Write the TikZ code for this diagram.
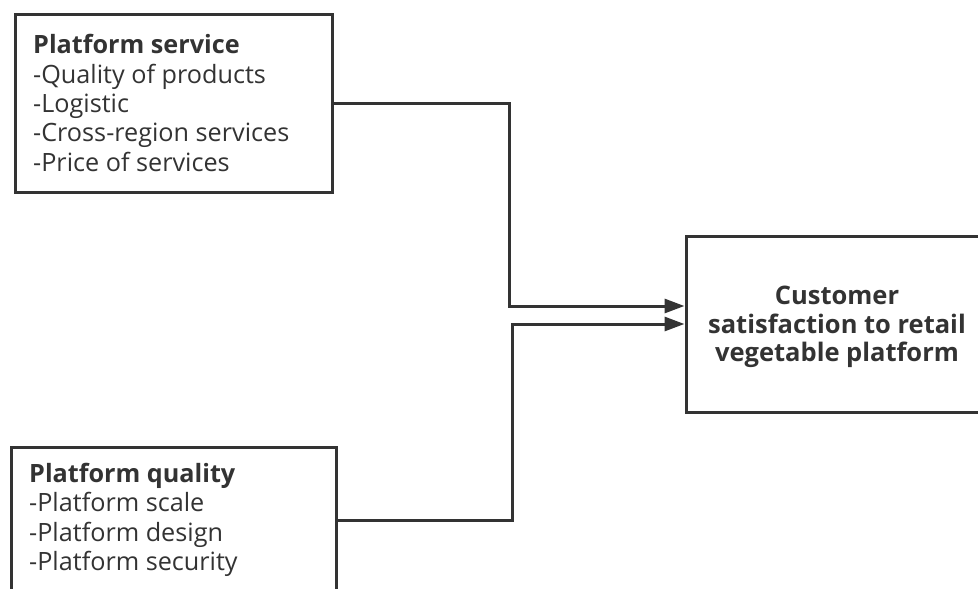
\documentclass[tikz,border=0pt]{standalone}
\usepackage{fontspec}
\setmainfont{Open Sans}
\usetikzlibrary{arrows.meta}
\definecolor{ink}{HTML}{333333}
\tikzset{
  x=1pt, y=-1pt,
  box/.style={draw=ink, line width=3pt, inner sep=0pt, fill=white},
  listtext/.style={inner sep=0pt, anchor=north west, align=left, text=ink,
    font=\fontsize{25.2}{29.3}\selectfont},
  goaltext/.style={inner sep=0pt, align=center, text=ink,
    font=\fontsize{25.5}{28.5}\selectfont\bfseries},
  link/.style={draw=ink, line width=3pt, line join=miter,
    -{Triangle[length=20pt,width=14pt]}},
}
\begin{document}
\begin{tikzpicture}
  \useasboundingbox (0,0) rectangle (978,589);
  \begin{scope}
    \clip (0,0) rectangle (978,589);
    % input boxes on the left, goal box on the right
    \node[box, minimum width=317pt, minimum height=178pt] (service) at (173.5,103) {};
    \node[box, minimum width=325pt, minimum height=178pt] (quality) at (173.5,536) {};
    \node[box, minimum width=302pt, minimum height=176pt] (goal) at (837,324) {};

    \node[listtext] (servicetext) at (33,34.5)
      {\textbf{Platform service}\\-Quality of products\\-Logistic\\-Cross-region services\\-Price of services};
    \node[listtext] (qualitytext) at (29,463)
      {\textbf{Platform quality}\\-Platform scale\\-Platform design\\-Platform security};
    \node[goaltext] (goaltxt) at (837,327)
      {Customer\\satisfaction to retail\\vegetable platform};

    % connectors
    \draw[link] (service.east) -| (509,306) -- ([yshift=18pt]goal.west);
    \draw[link] ([yshift=16pt]quality.east) -| (512,324) -- (goal.west);
  \end{scope}
\end{tikzpicture}
\end{document}
